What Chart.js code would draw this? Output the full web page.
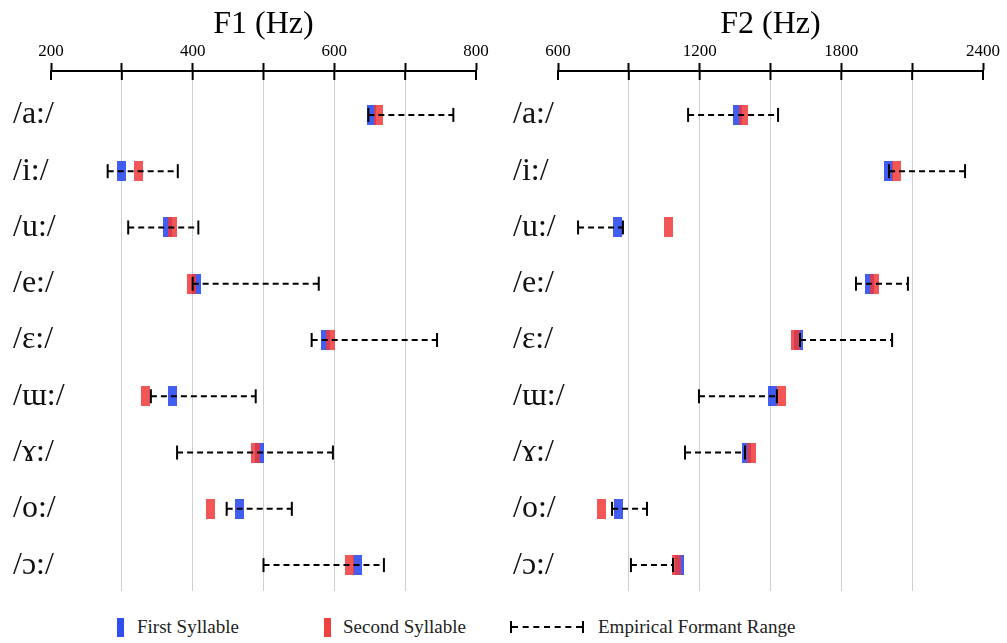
<!DOCTYPE html>
<html>
<head>
<meta charset="utf-8">
<script src="https://cdn.jsdelivr.net/npm/chart.js@4.4.1/dist/chart.umd.min.js"></script>
<style>
  body { margin: 0; background: #fff; width: 1007px; height: 643px; overflow: hidden; position: relative;
         font-family: 'Liberation Serif', 'Times New Roman', serif; }
  canvas { position: absolute; top: 0; }
  #chartF1 { left: 0; }
  #chartF2 { left: 500px; }
  .lg { position: absolute; top: 616px; font-size: 19px; line-height: 22px; color: #222; white-space: nowrap; }
  .sw { position: absolute; top: 618px; width: 7px; height: 19px; }
  .rng { position: absolute; top: 621px; left: 510px; width: 70px; height: 12px;
         border-left: 2px solid #000; border-right: 2px solid #000; }
  .rng::after { content: ''; position: absolute; left: 0; right: 0; top: 5px; border-top: 2px dashed #000; }
</style>
</head>
<body>
<canvas id="chartF1" width="500" height="600"></canvas>
<canvas id="chartF2" width="507" height="600"></canvas>

<div class="sw" style="left:117px;background:#2f4ff0"></div>
<div class="lg" style="left:137px">First Syllable</div>
<div class="sw" style="left:324px;background:#f04040"></div>
<div class="lg" style="left:343px">Second Syllable</div>
<div class="rng"></div>
<div class="lg" style="left:598px">Empirical Formant Range</div>

<script>
// vowel rows, top to bottom
const vowels = ['/a:/', '/i:/', '/u:/', '/e:/', '/ɛ:/', '/ɯ:/', '/ɤ:/', '/o:/', '/ɔ:/'];

// F1 (Hz)
const f1First  = [653, 300, 365, 405, 588, 372, 494, 466, 632];
const f1Second = [662, 324, 372, 399, 595, 333, 488, 425, 622];
const f1Low    = [648, 280, 309, 400, 568, 341, 378, 448, 500];
const f1High   = [768, 379, 408, 578, 745, 489, 598, 540, 670];
const f1Ticks  = [200, 300, 400, 500, 600, 700, 800];
const f1Labels = [200, 400, 600, 800];

// F2 (Hz)
const f2First  = [1362, 2000, 852, 1921, 1619, 1508, 1398, 856, 1115];
const f2Second = [1384, 2032, 1070, 1940, 1606, 1545, 1420, 784, 1100];
const f2Low    = [1151, 2002, 685, 1862, 1625, 1197, 1138, 829, 909];
const f2High   = [1532, 2324, 875, 2082, 2015, 1527, 1392, 977, 1087];
const f2Ticks  = [600, 900, 1200, 1500, 1800, 2100, 2400];
const f2Labels = [600, 1200, 1800, 2400];

Chart.defaults.font.family = "'Liberation Serif', 'Times New Roman', serif";
Chart.defaults.color = '#000';

function marker(color) {
    const c = document.createElement('canvas');
    c.width = 9;
    c.height = 20;
    const g = c.getContext('2d');
    g.fillStyle = color;
    g.fillRect(0, 0, 9, 20);
    return c;
}
const blueMark = marker('rgba(40, 72, 240, 0.88)');
const redMark = marker('rgba(240, 56, 56, 0.85)');

// title + the part of each tick that hangs below the axis line
const axisExtras = {
    id: 'axisExtras',
    afterDraw(chart, args, opts) {
        const { ctx, chartArea } = chart;
        const xs = chart.scales.x;
        ctx.save();
        ctx.strokeStyle = '#000';
        ctx.lineWidth = 2;
        xs.ticks.forEach(t => {
            const px = xs.getPixelForValue(t.value);
            ctx.beginPath();
            ctx.moveTo(px, chartArea.top);
            ctx.lineTo(px, chartArea.top + 9);
            ctx.stroke();
        });
        ctx.fillStyle = '#000';
        ctx.font = "32px 'Liberation Serif', serif";
        ctx.textAlign = 'center';
        ctx.fillText(opts.text, (chartArea.left + chartArea.right) / 2, 33);
        ctx.restore();
    }
};

function makeChart(id, title, first, second, low, high, ticks, tickLabels, labelWidth) {
    const ranges = vowels.map((v, i) => ({
        data: [{ x: low[i], y: i }, { x: high[i], y: i }],
        showLine: true,
        borderColor: '#000',
        borderWidth: 2,
        borderDash: [6, 4],
        pointStyle: 'line',
        pointRotation: 90,
        pointRadius: 7,
        pointBorderWidth: 2,
        pointBorderColor: '#000',
        order: 0
    }));

    const marks = [
        { data: second.map((x, i) => ({ x, y: i })), pointStyle: redMark, pointRadius: 5, order: 1 },
        { data: first.map((x, i) => ({ x, y: i })), pointStyle: blueMark, pointRadius: 5, order: 1 }
    ];

    return new Chart(document.getElementById(id), {
        type: 'scatter',
        data: { datasets: marks.concat(ranges) },
        plugins: [axisExtras],
        options: {
            responsive: false,
            animation: false,
            layout: { padding: { top: 31, bottom: 8, left: 0, right: 24 } },
            plugins: {
                legend: { display: false },
                tooltip: { enabled: false },
                axisExtras: { text: title }
            },
            scales: {
                x: {
                    type: 'linear',
                    position: 'top',
                    min: ticks[0],
                    max: ticks[ticks.length - 1],
                    afterBuildTicks: s => { s.ticks = ticks.map(v => ({ value: v })); },
                    afterFit: s => { s.height = 40; s.paddingLeft = 0; s.paddingRight = 0; },
                    ticks: {
                        autoSkip: false,
                        maxRotation: 0,
                        padding: 1,
                        font: { size: 17 },
                        callback: v => tickLabels.includes(v) ? String(v) : ''
                    },
                    grid: {
                        color: c => (c.tick && (c.tick.value === ticks[0] || c.tick.value === ticks[ticks.length - 1])) ? 'rgba(0,0,0,0)' : '#cfcfcf',
                        lineWidth: 1,
                        tickColor: '#000',
                        tickWidth: 2,
                        tickLength: 8
                    },
                    border: { display: true, color: '#000', width: 2 }
                },
                y: {
                    type: 'linear',
                    reverse: true,
                    min: -0.78,
                    max: 8.46,
                    afterBuildTicks: s => { s.ticks = vowels.map((v, i) => ({ value: i })); },
                    afterFit: s => { s.width = labelWidth; s.paddingTop = 0; s.paddingBottom = 0; },
                    ticks: {
                        autoSkip: false,
                        mirror: true,
                        padding: 13 - labelWidth,
                        font: { size: 32 },
                        color: '#111',
                        callback: v => vowels[v]
                    },
                    grid: { display: false, drawTicks: false },
                    border: { display: false }
                }
            }
        }
    });
}

makeChart('chartF1', 'F1 (Hz)', f1First, f1Second, f1Low, f1High, f1Ticks, f1Labels, 51);
makeChart('chartF2', 'F2 (Hz)', f2First, f2Second, f2Low, f2High, f2Ticks, f2Labels, 58);
</script>
</body>
</html>
